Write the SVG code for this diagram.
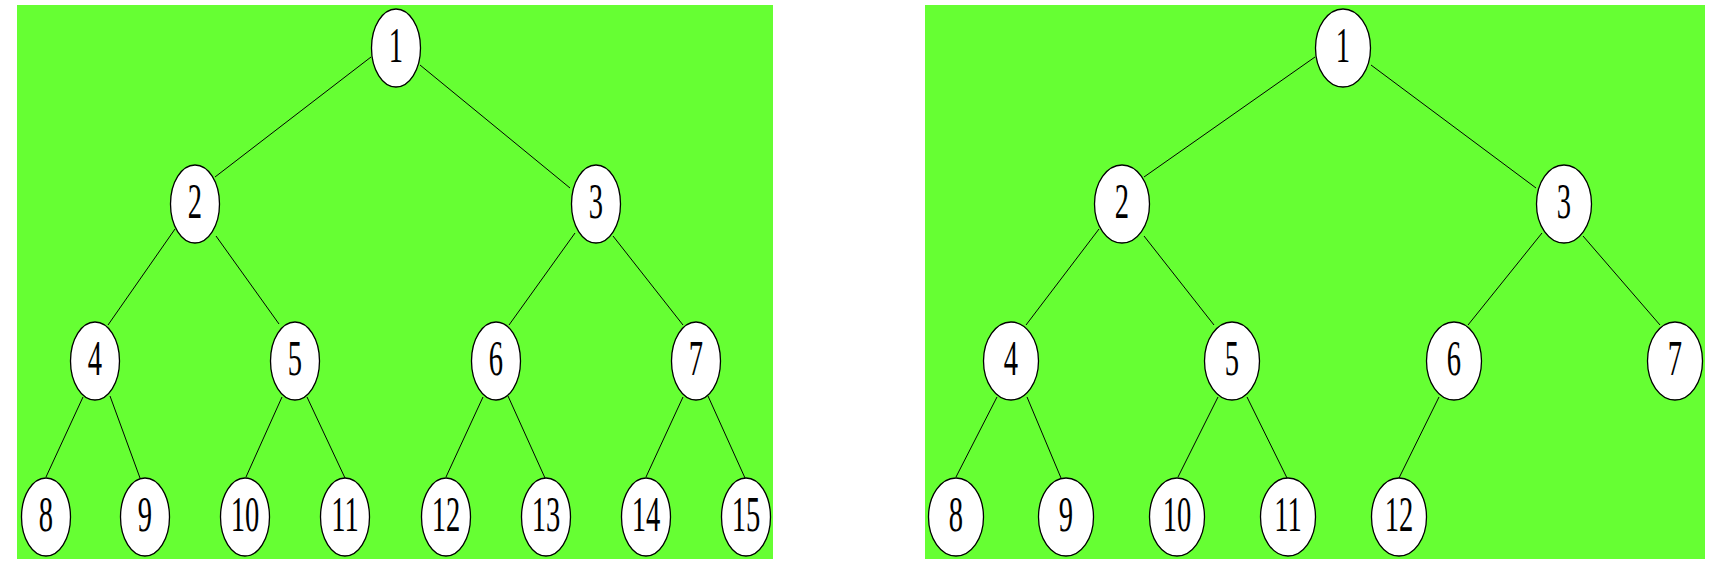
<svg xmlns="http://www.w3.org/2000/svg" width="1722" height="567" viewBox="0 0 1722 567">
<style>
.bg{fill:#66ff33}
.e{stroke:#000;stroke-width:1}
.n ellipse{fill:#fff;stroke:#000;stroke-width:1.3}
.n text{font-family:"Liberation Serif","Times New Roman",serif;font-size:51px;fill:#000;text-anchor:middle}
</style>
<rect width="1722" height="567" fill="#fff"/>
<rect class="bg" x="17" y="5" width="756" height="554"/>
<rect class="bg" x="925" y="5" width="780" height="554"/>
<g id="connectors">
<line class="e" x1="371" y1="57" x2="215" y2="177"/>
<line class="e" x1="420" y1="65" x2="570" y2="188"/>
<line class="e" x1="175" y1="229" x2="108" y2="325"/>
<line class="e" x1="216" y1="236" x2="279" y2="324"/>
<line class="e" x1="575" y1="233" x2="509" y2="325"/>
<line class="e" x1="613" y1="236" x2="683" y2="325"/>
<line class="e" x1="83" y1="397" x2="46" y2="477"/>
<line class="e" x1="110" y1="396" x2="140" y2="478"/>
<line class="e" x1="282" y1="397" x2="246" y2="477"/>
<line class="e" x1="307" y1="397" x2="345" y2="478"/>
<line class="e" x1="483" y1="397" x2="446" y2="477"/>
<line class="e" x1="508" y1="396" x2="545" y2="478"/>
<line class="e" x1="683" y1="397" x2="646" y2="477"/>
<line class="e" x1="708" y1="396" x2="745" y2="478"/>
<line class="e" x1="1315" y1="57" x2="1144" y2="177"/>
<line class="e" x1="1371" y1="65" x2="1536" y2="188"/>
<line class="e" x1="1099" y1="229" x2="1026" y2="325"/>
<line class="e" x1="1144" y1="236" x2="1214" y2="325"/>
<line class="e" x1="1542" y1="233" x2="1468" y2="325"/>
<line class="e" x1="1583" y1="236" x2="1660" y2="325"/>
<line class="e" x1="997" y1="397" x2="956" y2="477"/>
<line class="e" x1="1027" y1="397" x2="1061" y2="478"/>
<line class="e" x1="1218" y1="397" x2="1178" y2="477"/>
<line class="e" x1="1247" y1="397" x2="1287" y2="478"/>
<line class="e" x1="1439" y1="397" x2="1399" y2="478"/>
</g>
<g id="L1" class="n"><ellipse cx="396" cy="48" rx="24.5" ry="39"/><text transform="translate(396,62) scale(0.56,1)">1</text></g>
<g id="L2" class="n"><ellipse cx="195" cy="204" rx="24.5" ry="39"/><text transform="translate(195,218) scale(0.56,1)">2</text></g>
<g id="L3" class="n"><ellipse cx="596" cy="204" rx="24.5" ry="39"/><text transform="translate(596,218) scale(0.56,1)">3</text></g>
<g id="L4" class="n"><ellipse cx="95" cy="361" rx="24.5" ry="39"/><text transform="translate(95,375) scale(0.56,1)">4</text></g>
<g id="L5" class="n"><ellipse cx="295" cy="361" rx="24.5" ry="39"/><text transform="translate(295,375) scale(0.56,1)">5</text></g>
<g id="L6" class="n"><ellipse cx="496" cy="361" rx="24.5" ry="39"/><text transform="translate(496,375) scale(0.56,1)">6</text></g>
<g id="L7" class="n"><ellipse cx="696" cy="361" rx="24.5" ry="39"/><text transform="translate(696,375) scale(0.56,1)">7</text></g>
<g id="L8" class="n"><ellipse cx="46" cy="517" rx="24.5" ry="39"/><text transform="translate(46,531) scale(0.56,1)">8</text></g>
<g id="L9" class="n"><ellipse cx="145" cy="517" rx="24.5" ry="39"/><text transform="translate(145,531) scale(0.56,1)">9</text></g>
<g id="L10" class="n"><ellipse cx="245" cy="517" rx="24.5" ry="39"/><text transform="translate(245,531) scale(0.56,1)">10</text></g>
<g id="L11" class="n"><ellipse cx="345" cy="517" rx="24.5" ry="39"/><text transform="translate(345,531) scale(0.56,1)">11</text></g>
<g id="L12" class="n"><ellipse cx="446" cy="517" rx="24.5" ry="39"/><text transform="translate(446,531) scale(0.56,1)">12</text></g>
<g id="L13" class="n"><ellipse cx="546" cy="517" rx="24.5" ry="39"/><text transform="translate(546,531) scale(0.56,1)">13</text></g>
<g id="L14" class="n"><ellipse cx="646" cy="517" rx="24.5" ry="39"/><text transform="translate(646,531) scale(0.56,1)">14</text></g>
<g id="L15" class="n"><ellipse cx="746" cy="517" rx="24.5" ry="39"/><text transform="translate(746,531) scale(0.56,1)">15</text></g>
<g id="R1" class="n"><ellipse cx="1343" cy="48" rx="27.5" ry="39"/><text transform="translate(1343,62) scale(0.56,1)">1</text></g>
<g id="R2" class="n"><ellipse cx="1122" cy="204" rx="27.5" ry="39"/><text transform="translate(1122,218) scale(0.56,1)">2</text></g>
<g id="R3" class="n"><ellipse cx="1564" cy="204" rx="27.5" ry="39"/><text transform="translate(1564,218) scale(0.56,1)">3</text></g>
<g id="R4" class="n"><ellipse cx="1011" cy="361" rx="27.5" ry="39"/><text transform="translate(1011,375) scale(0.56,1)">4</text></g>
<g id="R5" class="n"><ellipse cx="1232" cy="361" rx="27.5" ry="39"/><text transform="translate(1232,375) scale(0.56,1)">5</text></g>
<g id="R6" class="n"><ellipse cx="1454" cy="361" rx="27.5" ry="39"/><text transform="translate(1454,375) scale(0.56,1)">6</text></g>
<g id="R7" class="n"><ellipse cx="1675" cy="361" rx="27.5" ry="39"/><text transform="translate(1675,375) scale(0.56,1)">7</text></g>
<g id="R8" class="n"><ellipse cx="956" cy="517" rx="27.5" ry="39"/><text transform="translate(956,531) scale(0.56,1)">8</text></g>
<g id="R9" class="n"><ellipse cx="1066" cy="517" rx="27.5" ry="39"/><text transform="translate(1066,531) scale(0.56,1)">9</text></g>
<g id="R10" class="n"><ellipse cx="1177" cy="517" rx="27.5" ry="39"/><text transform="translate(1177,531) scale(0.56,1)">10</text></g>
<g id="R11" class="n"><ellipse cx="1288" cy="517" rx="27.5" ry="39"/><text transform="translate(1288,531) scale(0.56,1)">11</text></g>
<g id="R12" class="n"><ellipse cx="1399" cy="517" rx="27.5" ry="39"/><text transform="translate(1399,531) scale(0.56,1)">12</text></g>
</svg>
